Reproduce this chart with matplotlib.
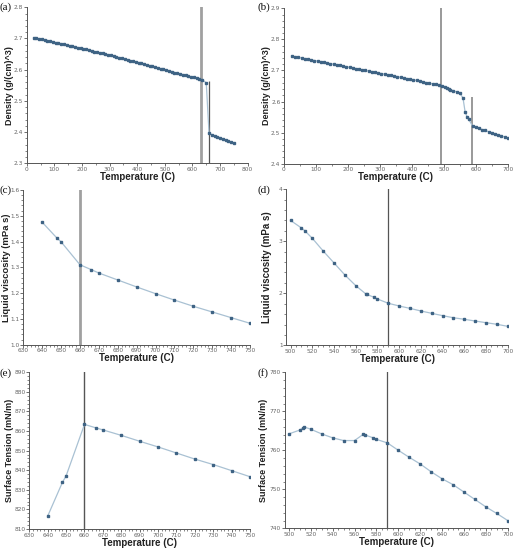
import matplotlib
matplotlib.use("Agg")
import matplotlib.pyplot as plt
from matplotlib.ticker import MultipleLocator, AutoMinorLocator, FormatStrFormatter

# ---- data ----
# (a) density, first alloy
a_temp = [25, 35, 45, 55, 65, 75, 85, 95, 105, 115, 125, 135, 145, 155, 165, 175,
          185, 195, 205, 215, 225, 235, 245, 255, 265, 275, 285, 295, 305, 315, 325,
          335, 345, 355, 365, 375, 385, 395, 405, 415, 425, 435, 445, 455, 465, 475,
          485, 495, 505, 515, 525, 535, 545, 555, 565, 575, 585, 595, 605, 615, 625,
          635, 650, 660, 670, 680, 690, 700, 710, 720, 730, 740, 750]
a_dens = [2.703, 2.701, 2.699, 2.697, 2.695, 2.693, 2.691, 2.689, 2.687, 2.685, 2.683,
          2.681, 2.679, 2.677, 2.675, 2.673, 2.671, 2.669, 2.667, 2.665, 2.663, 2.661,
          2.658, 2.656, 2.654, 2.652, 2.650, 2.648, 2.646, 2.643, 2.641, 2.639, 2.636,
          2.634, 2.632, 2.629, 2.627, 2.625, 2.623, 2.620, 2.618, 2.615, 2.613, 2.611,
          2.608, 2.606, 2.603, 2.601, 2.599, 2.596, 2.594, 2.591, 2.589, 2.587, 2.584,
          2.582, 2.579, 2.577, 2.575, 2.572, 2.570, 2.568, 2.558, 2.396, 2.392, 2.389,
          2.385, 2.382, 2.378, 2.375, 2.371, 2.367, 2.364]

# (b) density, second alloy
b_temp = [25, 35, 45, 55, 65, 75, 85, 95, 105, 115, 125, 135, 145, 155, 165, 175,
          185, 195, 205, 215, 225, 235, 245, 255, 265, 275, 285, 295, 305, 315, 325,
          335, 345, 355, 365, 375, 385, 395, 405, 415, 425, 435, 445, 455, 465, 475,
          485, 495, 505, 510, 515, 520, 530, 540, 550, 560, 567, 573, 578, 590, 600,
          610, 620, 630, 640, 650, 660, 670, 680, 690, 700]
b_dens = [2.746, 2.744, 2.742, 2.740, 2.738, 2.736, 2.734, 2.732, 2.730, 2.728, 2.726,
          2.724, 2.722, 2.720, 2.718, 2.716, 2.714, 2.712, 2.710, 2.708, 2.706, 2.704,
          2.702, 2.700, 2.698, 2.696, 2.694, 2.692, 2.690, 2.688, 2.686, 2.684, 2.682,
          2.680, 2.678, 2.676, 2.674, 2.672, 2.670, 2.668, 2.665, 2.663, 2.661, 2.659,
          2.657, 2.655, 2.653, 2.651, 2.647, 2.643, 2.641, 2.638, 2.635, 2.631, 2.626,
          2.612, 2.565, 2.551, 2.543, 2.521, 2.517, 2.514, 2.510, 2.507, 2.503, 2.500,
          2.496, 2.493, 2.490, 2.486, 2.483]

# (c) liquid viscosity, first alloy
c_temp = [640, 648, 650, 660, 666, 670, 680, 690, 700, 710, 720, 730, 740, 750]
c_visc = [1.475, 1.412, 1.399, 1.310, 1.291, 1.278, 1.251, 1.224, 1.198, 1.173,
          1.149, 1.127, 1.105, 1.083]

# (d) liquid viscosity, second alloy
d_temp = [500, 510, 513, 520, 530, 540, 550, 560, 569, 570, 577, 580, 590, 600,
          610, 620, 630, 640, 650, 660, 670, 680, 690, 700]
d_visc = [3.40, 3.256, 3.204, 3.057, 2.813, 2.583, 2.352, 2.147, 1.993, 1.980,
          1.923, 1.890, 1.808, 1.756, 1.710, 1.660, 1.615, 1.570, 1.530, 1.500,
          1.467, 1.435, 1.404, 1.365]

# (e) surface tension, first alloy
e_temp = [640, 648, 650, 660, 666, 670, 680, 690, 700, 710, 720, 730, 740, 750]
e_tens = [816.6, 833.8, 837.1, 863.4, 861.7, 860.6, 857.8, 854.8, 851.9, 848.8,
          845.7, 842.9, 839.8, 836.7]

# (f) surface tension, second alloy
f_temp = [500, 510, 513, 514, 520, 530, 540, 550, 560, 568, 570, 577, 580, 590,
          600, 610, 620, 630, 640, 650, 660, 670, 680, 690, 700]
f_tens = [764.2, 765.2, 765.8, 766.0, 765.4, 764.2, 763.2, 762.5, 762.5, 764.1,
          763.9, 763.2, 762.8, 761.9, 760.0, 758.2, 756.5, 754.5, 752.7, 751.2,
          749.3, 747.4, 745.5, 743.8, 742.0]

LINE_C = "#a9c1d3"
MARK_C = "#3e6384"
TICK_C = "#666666"

W, H = 514, 550
fig = plt.figure(figsize=(W / 100, H / 100), dpi=100)


def make_ax(left, top, right, bottom):
    # pixel box -> figure fraction
    ax = fig.add_axes([left / W, 1 - bottom / H, (right - left) / W, (bottom - top) / H])
    ax._px = (right - left, bottom - top)
    return ax


def style(ax, xlim, xmaj, xmin_n, ylim, ymaj, ymin_n, yfmt, ylabel,
          ylab_size=6.5, ylab_off=17):
    ax.set_xlim(*xlim)
    ax.set_ylim(*ylim)
    ax.xaxis.set_major_locator(MultipleLocator(xmaj))
    ax.yaxis.set_major_locator(MultipleLocator(ymaj))
    ax.xaxis.set_minor_locator(AutoMinorLocator(xmin_n))
    ax.yaxis.set_minor_locator(AutoMinorLocator(ymin_n))
    ax.yaxis.set_major_formatter(FormatStrFormatter(yfmt))
    for s in ("top", "right"):
        ax.spines[s].set_visible(False)
    for s in ("left", "bottom"):
        ax.spines[s].set_color("#555555")
        ax.spines[s].set_linewidth(0.7)
    ax.tick_params(which="major", length=2, width=0.6, color="#555555",
                   labelsize=4.2, labelcolor=TICK_C, pad=0.6)
    ax.tick_params(which="minor", length=1.3, width=0.5, color="#555555")
    w, h = ax._px
    ax.set_xlabel("Temperature (C)", fontsize=7, fontweight="bold",
                  color="#222222", family="Liberation Sans")
    ax.xaxis.set_label_coords(0.5, -13.5 / h)
    ax.xaxis.label.set_va("center")
    ax.set_ylabel(ylabel, fontsize=ylab_size, fontweight="bold", color="#222222",
                  family="Liberation Sans")
    ax.yaxis.set_label_coords(-ylab_off / w, 0.5)
    ax.yaxis.label.set_va("center")


def series(ax, x, y):
    ax.plot(x, y, color=LINE_C, lw=0.9, zorder=2)
    ax.plot(x, y, ls="none", marker="s", ms=1.8, color=MARK_C, zorder=3)


def panel_label(x, y, text):
    fig.text(x / W, 1 - y / H, text, fontsize=8, family="Liberation Serif",
             ha="left", va="top", color="#111111")


# (a)
ax = make_ax(26.7, 7.3, 247.7, 163.3)
series(ax, a_temp, a_dens)
ax.axvline(630, color="#a0a0a0", lw=2.0, zorder=1)
ax.vlines(660, 2.3, 2.565, color="#555555", lw=0.9, zorder=1)
style(ax, (0, 800), 100, 2, (2.3, 2.8), 0.1, 5, "%.1f", "Density (g/(cm)^3)",
      6.5, 17.5)
panel_label(0, 2, "(a)")

# (b)
ax = make_ax(284, 8.3, 507.7, 163.7)
series(ax, b_temp, b_dens)
ax.axvline(490, color="#888888", lw=1.2, zorder=1)
ax.vlines(588, 2.4, 2.614, color="#888888", lw=1.2, zorder=1)
style(ax, (0, 700), 100, 2, (2.4, 2.9), 0.1, 5, "%.1f", "Density (g/(cm)^3)",
      6.5, 17.5)
panel_label(257, 2, "(b)")

# (c)
ax = make_ax(23.3, 190, 250, 344.7)
series(ax, c_temp, c_visc)
ax.axvline(660, color="#a0a0a0", lw=2.0, zorder=1)
style(ax, (630, 750), 10, 5, (1.0, 1.6), 0.1, 5, "%.1f", "Liquid viscosity (mPa s)",
      6.8, 17.0)
panel_label(0, 185, "(c)")

# (d)
ax = make_ax(286.3, 189.3, 507.7, 345.3)
series(ax, d_temp, d_visc)
ax.axvline(590, color="#555555", lw=0.9, zorder=1)
style(ax, (496, 700), 20, 4, (1, 4), 1, 5, "%d", "Liquid viscosity (mPa s)",
      7.0, 19)
panel_label(257, 185, "(d)")

# (e)
ax = make_ax(29.3, 372.3, 250, 529)
series(ax, e_temp, e_tens)
ax.axvline(660, color="#555555", lw=1.0, zorder=1)
style(ax, (630, 750), 10, 5, (810, 890), 10, 5, "%d", "Surface Tension (mN/m)",
      6.5, 20)
panel_label(0, 368, "(e)")

# (f)
ax = make_ax(284.5, 372.3, 507.7, 528.3)
series(ax, f_temp, f_tens)
ax.axvline(590, color="#555555", lw=0.9, zorder=1)
style(ax, (496, 700), 20, 4, (740, 780), 10, 5, "%d", "Surface Tension (mN/m)",
      6.5, 20.5)
panel_label(257, 368, "(f)")

fig.savefig("out.png", dpi=100)
